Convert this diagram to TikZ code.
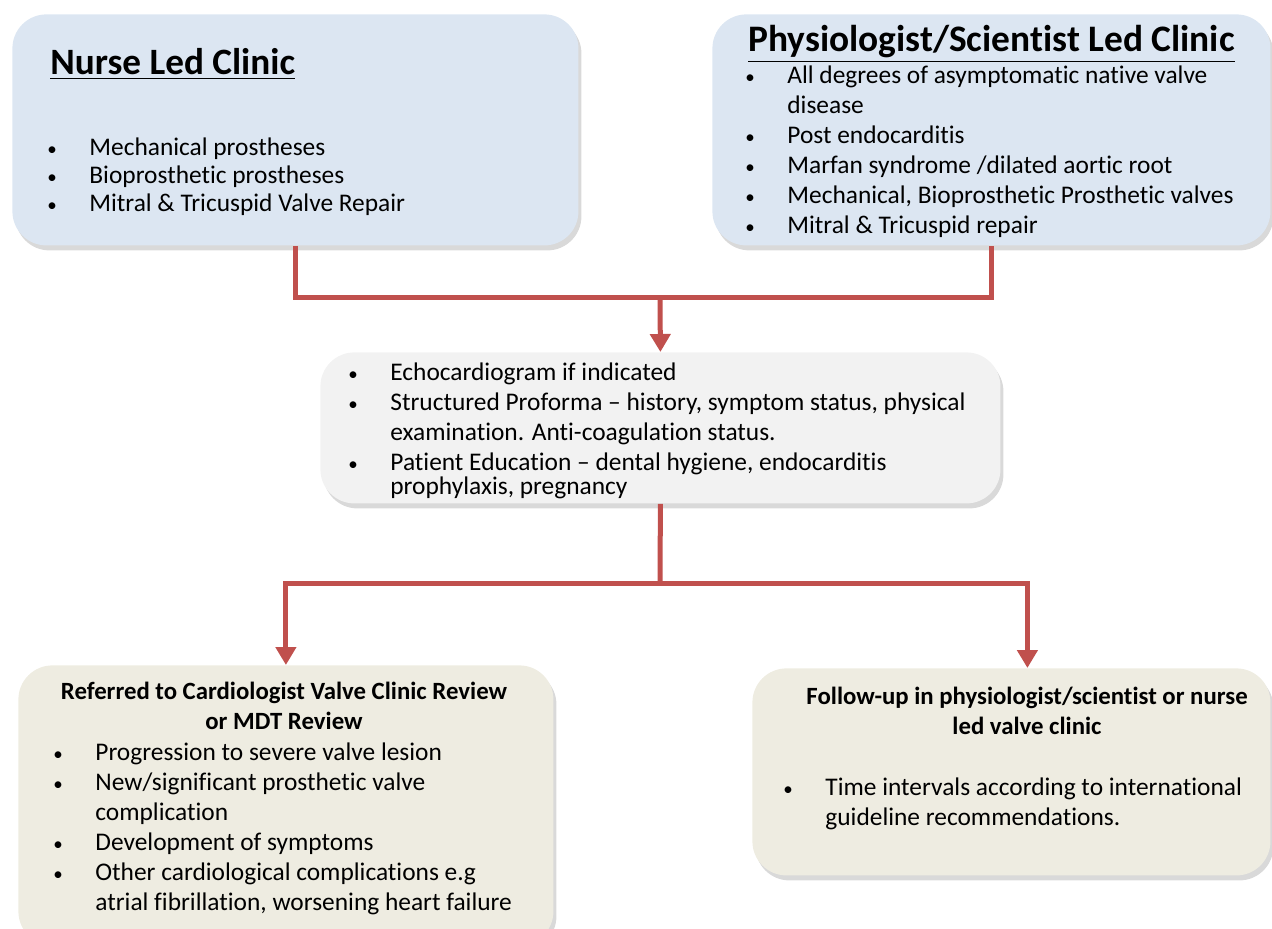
\documentclass[tikz,border=0pt]{standalone}
\usepackage{fontspec}
\setmainfont[Ligatures=NoCommon]{Carlito}
\usetikzlibrary{arrows.meta,positioning,calc,shadows}
\definecolor{clinicBlue}{RGB}{220,230,242}
\definecolor{checkGray}{RGB}{242,242,242}
\definecolor{outcomeTan}{RGB}{238,236,225}
\definecolor{linkRed}{RGB}{192,80,77}
\newcommand{\bitem}[1]{\makebox[19pt][l]{\hspace{-2pt}{\fontsize{9.5}{9}\selectfont\textbullet}}#1}
\newcommand{\bcont}[1]{\hspace*{19pt}#1}

\begin{document}
\begin{tikzpicture}[x=0.5pt, y=-0.5pt,
    box/.style={draw=none, rounded corners=17pt, anchor=north west, inner sep=0pt,
      drop shadow={shadow xshift=1.5pt, shadow yshift=-2.5pt, opacity=0.3}},
    txt/.style={anchor=north west, inner sep=0pt, align=left, font=\fontsize{12.7}{15}\selectfont},
    head/.style={anchor=north, inner sep=0pt, align=center, font=\fontsize{12.4}{15}\selectfont\bfseries},
    link/.style={draw=linkRed, line width=2.5pt},
    arrow/.style={link, -{Triangle[width=10pt, length=9pt]}}]
  \useasboundingbox (0,0) rectangle (1272,929);

  % the two clinics
  \node[box, fill=clinicBlue, minimum width=283pt, minimum height=115.5pt] (nurse) at (12,14) {};
  \node[box, fill=clinicBlue, minimum width=279pt, minimum height=115.5pt] (physio) at (712,14) {};
  \node[anchor=base west, inner sep=0pt, font=\fontsize{18.6}{20}\selectfont\bfseries] (nurseTitle) at (50,75)
    {\underline{Nurse Led Clinic}};
  \node[txt, font=\fontsize{12.7}{14}\selectfont] (nurseList) at (51,137)
    {\bitem{Mechanical prostheses}\\ \bitem{Bioprosthetic prostheses}\\ \bitem{Mitral \& Tricuspid Valve Repair}};
  \node[anchor=base west, inner sep=0pt, font=\fontsize{18.7}{20}\selectfont\bfseries] (physioTitle) at (748,52)
    {\underline{Physiologist/Scientist Led Clinic}};
  \node[txt] (physioList) at (749,65)
    {\bitem{All degrees of asymptomatic native valve}\\ \bcont{disease}\\ \bitem{Post endocarditis}\\
     \bitem{Marfan syndrome /dilated aortic root}\\ \bitem{Mechanical, Bioprosthetic Prosthetic valves}\\
     \bitem{Mitral \& Tricuspid repair}};

  % review in clinic
  \node[box, fill=checkGray, minimum width=340pt, minimum height=75.5pt] (echo) at (320,352) {};
  \node[txt] (echoList) at (352,362)
    {\bitem{Echocardiogram if indicated}\\ \bitem{Structured Proforma -- history, symptom status, physical}\\
     \bcont{examination. Anti-coagulation status.}\\ \bitem{Patient Education -- dental hygiene, endocarditis}\\[-3pt]
     \bcont{prophylaxis, pregnancy}};

  % outcomes
  \node[box, fill=outcomeTan, minimum width=267.5pt, minimum height=140pt] (review) at (18,665) {};
  \node[head] (reviewTitle) at (284,682)
    {Referred to Cardiologist Valve Clinic Review\\ or MDT Review};
  \node[txt] (reviewList) at (57,742)
    {\bitem{Progression to severe valve lesion}\\ \bitem{New/significant prosthetic valve}\\ \bcont{complication}\\
     \bitem{Development of symptoms}\\ \bitem{Other cardiological complications e.g}\\
     \bcont{atrial fibrillation, worsening heart failure}};

  \node[box, fill=outcomeTan, minimum width=259pt, minimum height=103.5pt] (followup) at (752,668) {};
  \node[head] (followupTitle) at (1027,687)
    {Follow-up in physiologist/scientist or nurse\\ led valve clinic};
  \node[txt] (followupList) at (787,777)
    {\bitem{Time intervals according to international}\\ \bcont{guideline recommendations.}};

  % connectors
  \coordinate (join) at (660,298);
  \coordinate (split) at (660,583);
  \draw[link] (nurse.south) |- (join) -| (physio.south);
  \draw[arrow] (join) -- (echo.north);
  \draw[link] (echo.south) -- (split);
  \draw[arrow] (split) -| (review.north);
  \draw[arrow] (split) -| ([xshift=8pt]followup.north);
\end{tikzpicture}
\end{document}
